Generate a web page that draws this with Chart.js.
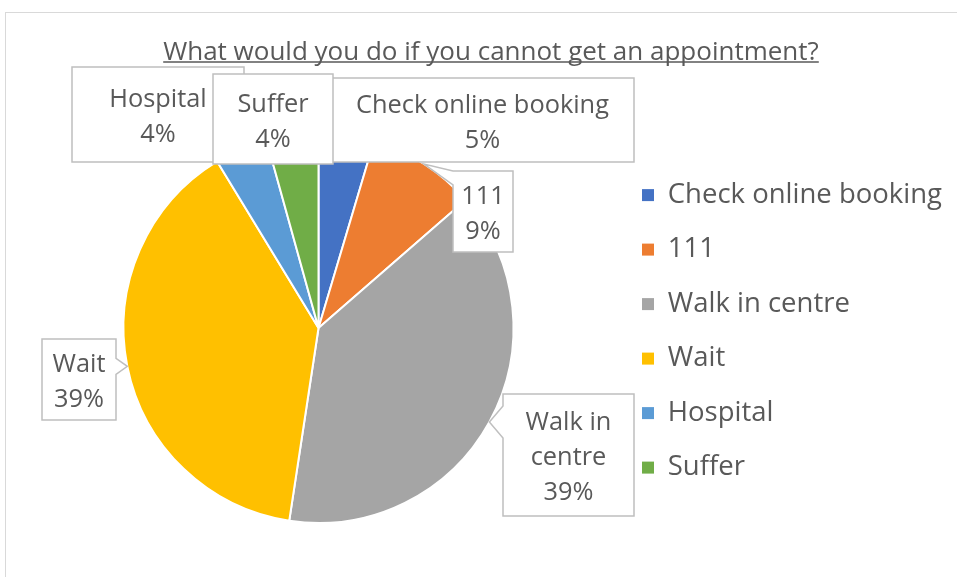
<!DOCTYPE html>
<html>
<head>
<meta charset="utf-8">
<script src="https://cdn.jsdelivr.net/npm/chart.js@4.4.1/dist/chart.umd.min.js"></script>
<style>
    html, body { margin: 0; padding: 0; background: #fff; overflow: hidden; }
    #marco { position: absolute; left: 5px; top: 12px; width: 1400px; height: 900px; border: 1px solid #d9d9d9; }
    #contenedor { position: absolute; left: 0; top: 0; width: 957px; height: 577px; }
</style>
</head>
<body>
<div id="marco"></div>
<div id="contenedor"><canvas id="canvas1" width="957" height="577"></canvas></div>
<script>
var TITULO = "What would you do if you cannot get an appointment?";
var categorias = ["Check online booking", "111", "Walk in centre", "Wait", "Hospital", "Suffer"];
var valores = [4.6, 9.0, 38.8, 38.9, 4.4, 4.3];
var colores = ["#4472C4", "#ED7D31", "#A5A5A5", "#FFC000", "#5B9BD5", "#70AD47"];
var lineasEtiqueta = [["Check online booking"], ["111"], ["Walk in", "centre"], ["Wait"], ["Hospital"], ["Suffer"]];

// cajas de las etiquetas (x, y, ancho, alto, media base de la cola)
var cajas = [
    {x: 331, y: 78, w: 303, h: 84, cola: 0},
    {x: 453, y: 171, w: 60, h: 81, cola: 7},
    {x: 503, y: 394, w: 131, h: 122, cola: 16},
    {x: 42, y: 339, w: 74, h: 81, cola: 8},
    {x: 72, y: 67, w: 172, h: 95, cola: 0},
    {x: 213, y: 74, w: 120, h: 90, cola: 0}
];

var FUENTE = '"Open Sans", "Noto Sans", sans-serif';
var GRIS_TEXTO = "#595959";

function tamFuente(ctx, texto, ancho)
{
    ctx.font = "100px " + FUENTE;
    return 100 * ancho / ctx.measureText(texto).width;
}

function dibujarCaja(ctx, c, punta)
{
    var dentro = punta.x >= c.x && punta.x <= c.x + c.w && punta.y >= c.y && punta.y <= c.y + c.h;
    var lado = "";
    if(!dentro && c.cola > 0)
    {
        if(punta.x < c.x) lado = "izq";
        else if(punta.x > c.x + c.w) lado = "der";
    }
    var cy = Math.min(Math.max(punta.y, c.y + c.cola), c.y + c.h - c.cola);
    ctx.beginPath();
    ctx.moveTo(c.x, c.y);
    ctx.lineTo(c.x + c.w, c.y);
    if(lado === "der")
    {
        ctx.lineTo(c.x + c.w, cy - c.cola);
        ctx.lineTo(punta.x, punta.y);
        ctx.lineTo(c.x + c.w, cy + c.cola);
    }
    ctx.lineTo(c.x + c.w, c.y + c.h);
    ctx.lineTo(c.x, c.y + c.h);
    if(lado === "izq")
    {
        ctx.lineTo(c.x, cy + c.cola);
        ctx.lineTo(punta.x, punta.y);
        ctx.lineTo(c.x, cy - c.cola);
    }
    ctx.closePath();
    ctx.fillStyle = "#ffffff";
    ctx.fill();
    ctx.lineWidth = 1.5;
    ctx.strokeStyle = "#bfbfbf";
    ctx.stroke();
}

var pluginEtiquetas = {
    id: "etiquetas",
    afterDraw: function(chart)
    {
        var ctx = chart.ctx;
        ctx.save();

        // titulo subrayado
        var tt = tamFuente(ctx, TITULO, 656);
        ctx.font = tt + "px " + FUENTE;
        ctx.fillStyle = GRIS_TEXTO;
        ctx.textAlign = "center";
        ctx.textBaseline = "alphabetic";
        ctx.fillText(TITULO, 491, 59.5);
        var anchoT = ctx.measureText(TITULO).width;
        ctx.beginPath();
        ctx.moveTo(491 - anchoT / 2, 62);
        ctx.lineTo(491 + anchoT / 2, 62);
        ctx.lineWidth = 1.5;
        ctx.strokeStyle = GRIS_TEXTO;
        ctx.stroke();

        // etiquetas con porcentaje
        var total = valores.reduce(function(a, b){ return a + b; }, 0);
        var meta = chart.getDatasetMeta(0);
        var te = tamFuente(ctx, "Check online booking", 253);
        for(var i = 0; i < meta.data.length; i++)
        {
            var arco = meta.data[i];
            var medio = (arco.startAngle + arco.endAngle) / 2;
            var punta = {
                x: arco.x + Math.cos(medio) * arco.outerRadius,
                y: arco.y + Math.sin(medio) * arco.outerRadius
            };
            var c = cajas[i];
            dibujarCaja(ctx, c, punta);
            var lineas = lineasEtiqueta[i].concat([Math.round(valores[i] / total * 100) + "%"]);
            ctx.font = te + "px " + FUENTE;
            ctx.fillStyle = GRIS_TEXTO;
            ctx.textAlign = "center";
            ctx.textBaseline = "alphabetic";
            var cx = c.x + c.w / 2;
            var cyc = c.y + c.h / 2;
            for(var j = 0; j < lineas.length; j++)
            {
                ctx.fillText(lineas[j], cx, cyc + (j - (lineas.length - 1) / 2) * 35 + 10.3);
            }
        }
        ctx.restore();
    }
};

var ctx = document.getElementById("canvas1");
new Chart(ctx, {
    type: "pie",
    data: {
        labels: categorias,
        datasets: [{
            data: valores,
            backgroundColor: colores,
            borderColor: "#ffffff",
            borderWidth: 2,
            radius: 195
        }]
    },
    options: {
        animation: false,
        responsive: false,
        layout: {
            padding: {left: 22, right: 5, top: 131, bottom: 52}
        },
        plugins: {
            tooltip: {enabled: false},
            legend: {
                position: "right",
                align: "center",
                // titulo vacio solo para bajar un poco los items
                title: {display: true, text: " ", font: {size: 1}, padding: {top: 5.5, bottom: 0}},
                labels: {
                    boxWidth: 12,
                    boxHeight: 12,
                    padding: 27,
                    color: GRIS_TEXTO,
                    font: {family: FUENTE, size: 27.5},
                    generateLabels: function(chart)
                    {
                        var items = Chart.overrides.pie.plugins.legend.labels.generateLabels(chart);
                        items.forEach(function(it){ it.lineWidth = 0; });
                        return items;
                    }
                }
            }
        }
    },
    plugins: [pluginEtiquetas]
});
</script>
</body>
</html>
